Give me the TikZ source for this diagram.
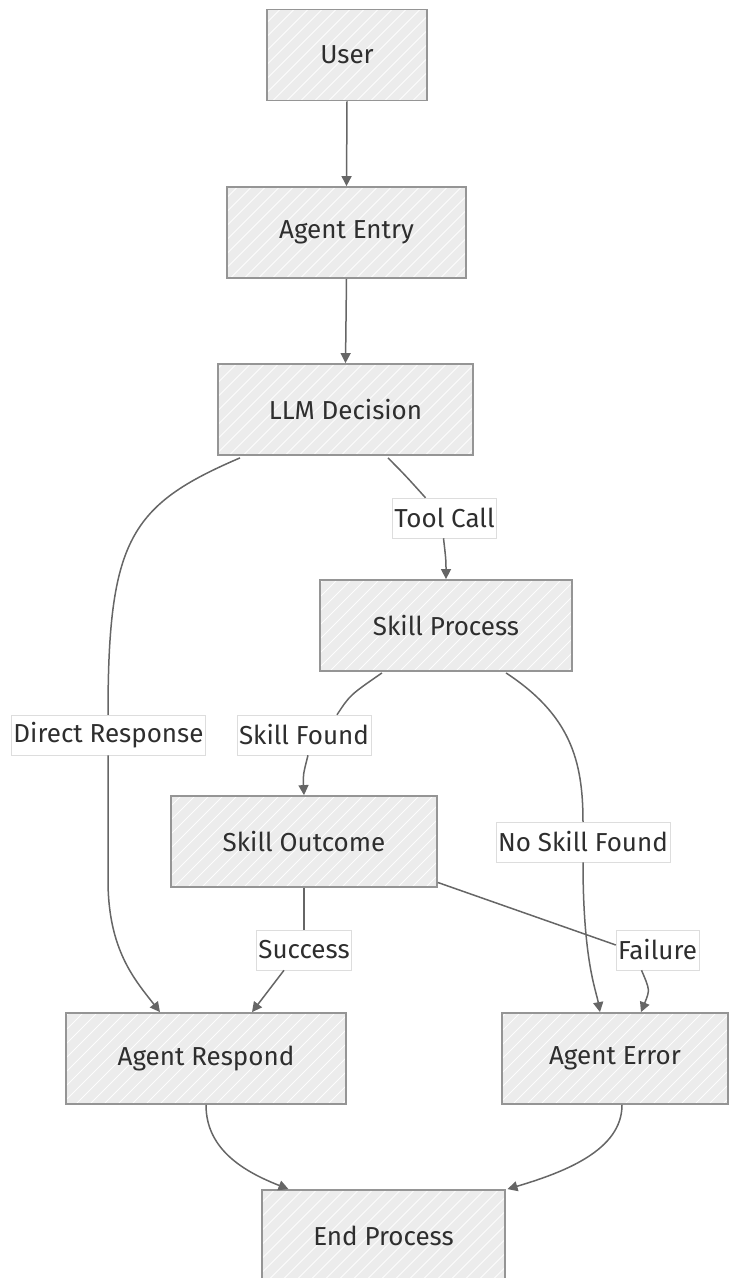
\documentclass[tikz,border=0pt]{standalone}
\usepackage{fontspec}
\setmainfont{Fira Sans}
\usetikzlibrary{arrows.meta,calc}
\definecolor{boxfill}{HTML}{ECECEC}
\definecolor{boxline}{HTML}{959595}
\definecolor{edgecol}{HTML}{666666}
\definecolor{txt}{HTML}{2E2E2E}
\definecolor{lblline}{HTML}{DDDDDD}
\tikzset{
  flowbox/.style={draw=boxline, line width=1.8pt, fill=boxfill, text=txt,
    minimum height=91pt, inner sep=0pt,
    font=\fontsize{26}{30}\selectfont,
    path picture={\foreach \k in {-340,-326,...,340}
      \draw[white, line width=0.8pt, opacity=0.9]
        ([xshift=\k pt]path picture bounding box.south) -- ++(110pt,110pt);}},
  edgelabel/.style={fill=white, draw=lblline, line width=0.5pt, text=txt,
    minimum height=40pt, inner xsep=2pt, inner ysep=0pt,
    font=\fontsize{26}{30}\selectfont},
  link/.style={draw=edgecol, line width=1.5pt},
  arrowlink/.style={link, -{Triangle[length=10pt,width=10pt]}},
}
\begin{document}
\begin{tikzpicture}[x=1pt,y=-1pt]
\useasboundingbox (0,0) rectangle (729,1278);

% process boxes
\node[flowbox, minimum width=160pt] (user)    at (347,55)     {User};
\node[flowbox, minimum width=239pt] (entry)   at (346.5,232.5) {Agent Entry};
\node[flowbox, minimum width=255pt] (llm)     at (345.5,409.5) {LLM Decision};
\node[flowbox, minimum width=252pt] (skill)   at (446,625.5)  {Skill Process};
\node[flowbox, minimum width=266pt] (outcome) at (304,841.5)  {Skill Outcome};
\node[flowbox, minimum width=280pt] (respond) at (206,1058.5) {Agent Respond};
\node[flowbox, minimum width=226pt] (error)   at (615,1058.5) {Agent Error};
\node[flowbox, minimum width=243pt] (finish)  at (383.5,1235.5) {End Process};

% edge labels
\node[edgelabel] (ltool)    at (444.5,518) {Tool Call};
\node[edgelabel] (ldirect)  at (108.5,735) {Direct Response};
\node[edgelabel] (lfound)   at (304,735)   {Skill Found};
\node[edgelabel] (lnoskill) at (583,842)   {No Skill Found};
\node[edgelabel] (lsuccess) at (304,950)   {Success};
\node[edgelabel] (lfail)    at (657.5,950) {Failure};

% straight links
\draw[arrowlink] (user.south) -- (entry.north);
\draw[arrowlink] (entry.south) -- (llm.north);

% LLM Decision -> Agent Respond (direct response)
\draw[link] ($(llm.south)+(-105.5,2)$) .. controls (130,505) and (108,540) .. (ldirect.north -| 108,0);
\draw[arrowlink] (ldirect.south -| 108,0) -- (108,880)
  .. controls (108,950) and (135,980) .. ($(respond.north)+(-46,0)$);

% LLM Decision -> Skill Process (tool call)
\draw[link] ($(llm.south)+(42.5,2)$) .. controls (405,475) .. ($(ltool.north)+(-19,0)$);
\draw[arrowlink] ($(ltool.south)+(-1,0)$) .. controls (446,560) .. ($(skill.north)+(0,0)$);

% Skill Process -> Skill Outcome (skill found)
\draw[link] ($(skill.south)+(-64,1)$) .. controls (350,695) .. ($(lfound.north)+(33,0)$);
\draw[arrowlink] ($(lfound.south)+(4,0)$) .. controls (303,775) .. (outcome.north);

% Skill Process -> Agent Error (no skill found)
\draw[link] ($(skill.south)+(60,1)$) .. controls (570,715) and (583,760) .. (lnoskill.north);
\draw[arrowlink] (lnoskill.south) .. controls (583,960) and (596,990) .. ($(error.north)+(-15,0)$);

% Skill Outcome -> Agent Respond (success)
\draw[link] ($(outcome.south)+(0,0)$) .. controls (304,910) .. (lsuccess.north);
\draw[arrowlink] ($(lsuccess.south)+(-20,0)$) -- ($(respond.north)+(46,0)$);

% Skill Outcome -> Agent Error (failure)
\draw[link] ($(outcome.east)+(0,41)$) -- ($(lfail.west)+(0,-5)$);
\draw[arrowlink] ($(lfail.south)+(-16,0)$) .. controls (650,990) .. ($(error.north)+(26,0)$);

% both outcomes -> End Process
\draw[arrowlink] (respond.south) .. controls (206,1150) and (245,1172) .. ($(finish.north)+(-95,0)$);
\draw[arrowlink] ($(error.south)+(7,0)$) .. controls (622,1150) and (565,1172) .. ($(finish.north)+(124,0)$);
\end{tikzpicture}
\end{document}
